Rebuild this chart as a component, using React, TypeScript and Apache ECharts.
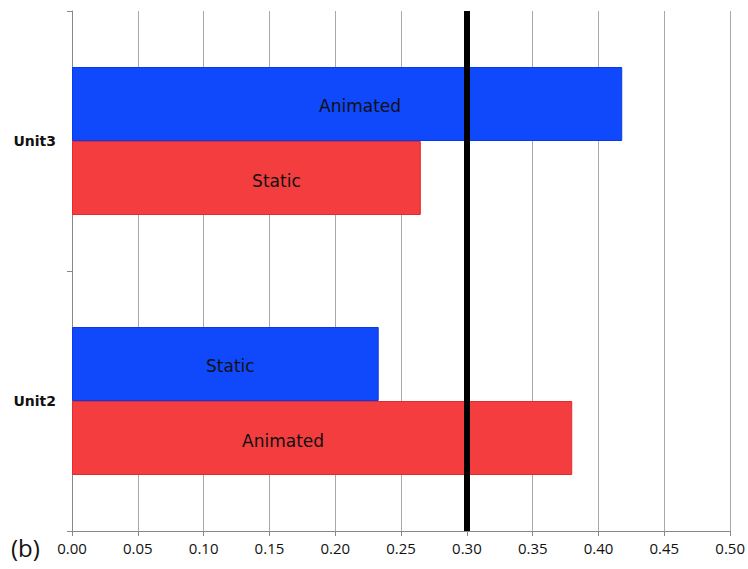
import React, { useEffect, useRef } from "react";
import * as echarts from "echarts";

const categories = ["Unit2", "Unit3"];
const redValues = [0.38, 0.265];
const redLabels = ["Animated", "Static"];
const blueValues = [0.233, 0.418];
const blueLabels = ["Static", "Animated"];
const thresholdValue = 0.3;
const xTicks = ["0.00", "0.05", "0.10", "0.15", "0.20", "0.25", "0.30", "0.35", "0.40", "0.45", "0.50"];

// label horizontal shifts (style, not data)
const redLabelShift = [-39, 30];
const blueLabelShift = [5, 13];

export default function App() {
  const ref = useRef<HTMLDivElement>(null);
  useEffect(() => {
    document.body.style.margin = "0";
    const chart = echarts.init(ref.current!, null, { renderer: "svg" });
    const labelStyle = {
      show: true,
      position: "inside",
      color: "#111",
      fontSize: 17,
      fontFamily: "DejaVu Sans",
    };
    chart.setOption({
      animation: false,
      backgroundColor: "#ffffff",
      grid: { left: 72, right: 17, top: 11, bottom: 38 },
      xAxis: {
        type: "value",
        min: 0,
        max: 0.5,
        interval: 0.05,
        axisLine: { show: true, lineStyle: { color: "#888", width: 1 } },
        axisTick: { show: true, length: 5, lineStyle: { color: "#888" } },
        splitLine: { show: true, lineStyle: { color: "#a8a8a8", width: 1 } },
        axisLabel: {
          color: "#111",
          fontSize: 15,
          fontFamily: "Open Sans",
          margin: 9,
          formatter: (v: number) => xTicks[Math.round(v / 0.05)] ?? v.toFixed(2),
        },
      },
      yAxis: {
        type: "category",
        data: categories,
        axisLine: { show: true, lineStyle: { color: "#888", width: 1 } },
        axisTick: { show: true, length: 5, lineStyle: { color: "#888" } },
        axisLabel: {
          color: "#111",
          fontSize: 14,
          fontWeight: "bold",
          fontFamily: "DejaVu Sans",
          margin: 16,
        },
      },
      graphic: [
        {
          type: "text",
          left: 11,
          top: 535,
          style: { text: "(b)", fontSize: 24, fontFamily: "Open Sans", fill: "#111" },
        },
      ],
      series: [
        {
          type: "bar",
          name: "blue",
          barWidth: 74,
          barGap: "0%",
          itemStyle: { color: "#1048fb", borderColor: "#0a3ae8", borderWidth: 1 },
          data: blueValues.map((v, i) => ({
            value: v,
            label: { ...labelStyle, formatter: blueLabels[i], offset: [blueLabelShift[i], 2] },
          })),
          markLine: {
            silent: true,
            symbol: ["none", "none"],
            label: { show: false },
            lineStyle: { color: "#000", width: 6, type: "solid" },
            data: [{ xAxis: thresholdValue }],
          },
          z: 3,
        },
        {
          type: "bar",
          name: "red",
          barWidth: 74,
          barGap: "0%",
          itemStyle: { color: "#f33d3f", borderColor: "#e52a2c", borderWidth: 1 },
          data: redValues.map((v, i) => ({
            value: v,
            label: { ...labelStyle, formatter: redLabels[i], offset: [redLabelShift[i], 3] },
          })),
        },
      ],
    });
    return () => chart.dispose();
  }, []);
  return <div ref={ref} style={{ width: 748, height: 569 }} />;
}
